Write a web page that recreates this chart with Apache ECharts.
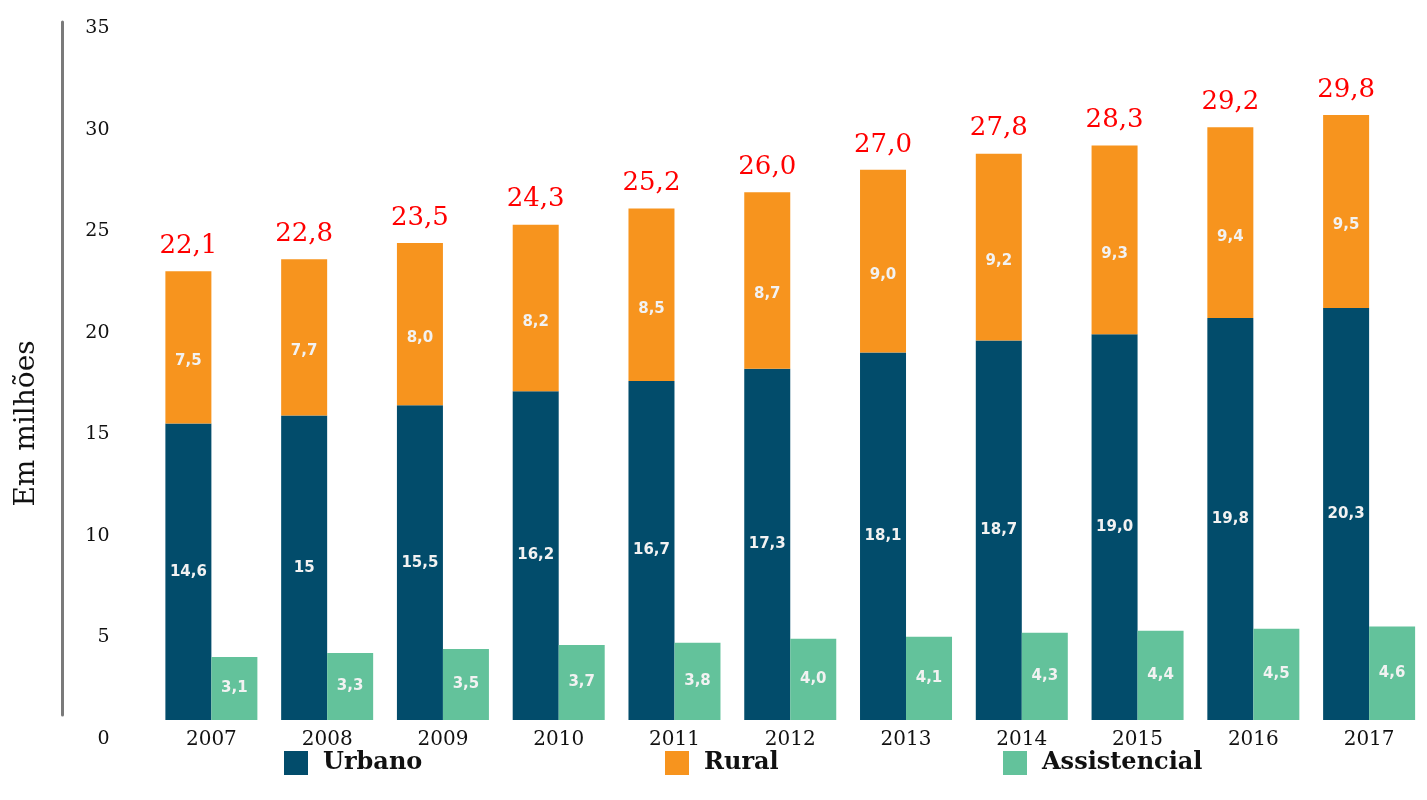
<!DOCTYPE html>
<html><head><meta charset="utf-8">
<script src="https://cdn.jsdelivr.net/npm/echarts@6/dist/echarts.min.js"></script>
<style>html,body{margin:0;padding:0;background:#fff}#c{width:1427px;height:800px}</style>
</head><body><div id="c"></div>
<script>
const years = ['2007','2008','2009','2010','2011','2012','2013','2014','2015','2016','2017'];
const urbano = [14.6, 15, 15.5, 16.2, 16.7, 17.3, 18.1, 18.7, 19.0, 19.8, 20.3];
const urbanoLabels = ['14,6','15','15,5','16,2','16,7','17,3','18,1','18,7','19,0','19,8','20,3'];
const rural = [7.5, 7.7, 8.0, 8.2, 8.5, 8.7, 9.0, 9.2, 9.3, 9.4, 9.5];
const assistencial = [3.1, 3.3, 3.5, 3.7, 3.8, 4.0, 4.1, 4.3, 4.4, 4.5, 4.6];
const totals = ['22,1','22,8','23,5','24,3','25,2','26,0','27,0','27,8','28,3','29,2','29,8'];
const yTicks = [0, 5, 10, 15, 20, 25, 30, 35];

const SERIF = 'DejaVu Serif';
const SANS = 'DejaVu Sans';
const fmt1 = v => v.toFixed(1).replace('.', ',');
const inner = {show:true, color:'#f2f2f2', fontFamily:SANS, fontWeight:'bold', fontSize:15};
const legendText = {fontFamily:SERIF, fontWeight:'bold', fontSize:24, color:'#111', padding:[0,0,0,10]};

const chart = echarts.init(document.getElementById('c'));
chart.setOption({
  animation:false,
  grid:[
    {left:153.5, width:1287, top:9.5, height:710.5},
    {left:153.5, width:1287, top:22, height:693}
  ],
  xAxis:[
    {type:'category', data:years, axisLine:{show:false}, axisTick:{show:false},
     axisLabel:{color:'#111', fontFamily:SERIF, fontSize:20, margin:10}},
    {type:'category', gridIndex:1, data:years, show:false}
  ],
  yAxis:[
    {type:'value', min:yTicks[0], max:yTicks[yTicks.length-1], interval:5,
     splitLine:{show:false}, axisLine:{show:false}, axisTick:{show:false},
     axisLabel:{color:'#111', fontFamily:SERIF, fontSize:19, margin:44, verticalAlign:'top', lineHeight:38}},
    {type:'value', gridIndex:1, position:'left', offset:91, min:0, max:35, interval:5,
     splitLine:{show:false}, axisTick:{show:false}, axisLabel:{show:false},
     axisLine:{show:true, lineStyle:{color:'#7a7a7a', width:3}},
     name:'Em milhões', nameLocation:'middle', nameGap:22,
     nameTextStyle:{color:'#111', fontFamily:SERIF, fontSize:28, padding:[0,110,0,0]}}
  ],
  legend:[
    {left:279, top:746, itemWidth:24, itemHeight:24, data:['Urbano'], icon:'rect', textStyle:legendText},
    {left:660, top:746, itemWidth:24, itemHeight:24, data:['Rural'], icon:'rect', textStyle:legendText},
    {left:998, top:746, itemWidth:24, itemHeight:24, data:['Assistencial'], icon:'rect', textStyle:legendText}
  ],
  series:[
    {name:'Urbano', type:'bar', stack:'a', data:urbano, barWidth:46, barGap:'0%',
     itemStyle:{color:'#024C6B'},
     label:Object.assign({position:'inside', formatter:p=>urbanoLabels[p.dataIndex]}, inner)},
    {name:'Rural', type:'bar', stack:'a', data:rural, barWidth:46,
     itemStyle:{color:'#F7941E'},
     label:Object.assign({position:'inside', offset:[0,14], formatter:p=>fmt1(p.value)}, inner)},
    {name:'Assistencial', type:'bar', data:assistencial, barWidth:46, barGap:'0%',
     itemStyle:{color:'#63C29B'},
     label:Object.assign({position:'inside', formatter:p=>fmt1(p.value)}, inner)},
    {name:'Total', type:'bar', stack:'a', data:years.map(()=>0), barWidth:46,
     label:{show:true, position:'top', distance:12, color:'#ff0000', fontFamily:SERIF, fontSize:26,
       formatter:p=>totals[p.dataIndex]}}
  ]
});
</script></body></html>
